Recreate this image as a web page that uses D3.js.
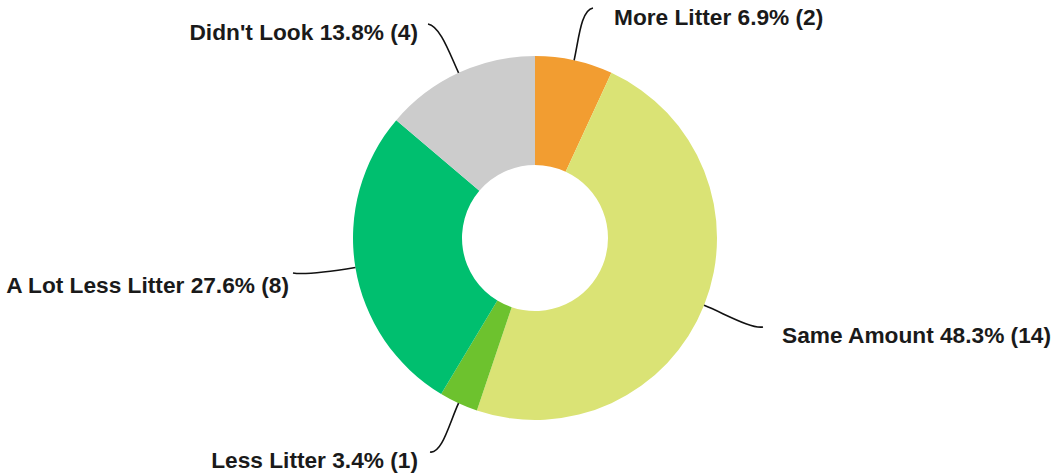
<!DOCTYPE html>
<html>
<head>
<meta charset="utf-8">
<script src="https://cdn.jsdelivr.net/npm/d3@7"></script>
<style>
  html, body { margin: 0; padding: 0; background: #fff; }
  svg { display: block; }
  .lbl { font-family: "Liberation Sans", Arial, sans-serif; font-weight: 700; font-size: 22.7px; fill: #1a1a1a; }
</style>
</head>
<body>
<svg id="chart" width="1056" height="476"></svg>
<script>
// Survey answers, clockwise from the top
const categories = ["More Litter", "Same Amount", "Less Litter", "A Lot Less Litter", "Didn't Look"];
const counts = [2, 14, 1, 8, 4];
const percents = ["6.9%", "48.3%", "3.4%", "27.6%", "13.8%"];
const colors = ["#F29D31", "#DAE375", "#6DC22E", "#00BF6F", "#CCCCCC"];

// Label placement: leader end point and which side the text sits on
const labelLayout = [
  { end: [593, 8],   side: "right", tx: 614, ty: 24.5 },
  { end: [763, 327], side: "right", tx: 782, ty: 343 },
  { end: [430, 452], side: "left",  tx: 418, ty: 468 },
  { end: [293, 273], side: "left",  tx: 289, ty: 293 },
  { end: [428, 24],  side: "left",  tx: 418, ty: 40 }
];

const cx = 535, cy = 238, outerR = 182, innerR = 73;

const svg = d3.select("#chart");
const g = svg.append("g").attr("transform", `translate(${cx},${cy})`);

const data = categories.map((c, i) => ({ name: c, value: counts[i], pct: percents[i], color: colors[i], layout: labelLayout[i] }));

const pie = d3.pie().value(d => d.value).sort(null);
const arc = d3.arc().innerRadius(innerR).outerRadius(outerR);
const arcs = pie(data);

g.selectAll("path.slice")
  .data(arcs)
  .join("path")
  .attr("class", "slice")
  .attr("d", arc)
  .attr("fill", d => d.data.color);

// Leader lines: leave the ring radially, bend into the label
g.selectAll("path.leader")
  .data(arcs)
  .join("path")
  .attr("class", "leader")
  .attr("fill", "none")
  .attr("stroke", "#111")
  .attr("stroke-width", 1.6)
  .attr("d", d => {
    const a = (d.startAngle + d.endAngle) / 2;
    const ux = Math.sin(a), uy = -Math.cos(a);
    const s = [outerR * ux, outerR * uy];
    const c1 = [(outerR + 22) * ux, (outerR + 22) * uy];
    const e = [d.data.layout.end[0] - cx, d.data.layout.end[1] - cy];
    const dir = d.data.layout.side === "right" ? -1 : 1;
    const c2 = [e[0] + dir * 12, e[1] + 2];
    return `M${s[0]},${s[1]} C${c1[0]},${c1[1]} ${c2[0]},${c2[1]} ${e[0]},${e[1]}`;
  });

svg.selectAll("text.lbl")
  .data(arcs)
  .join("text")
  .attr("class", "lbl")
  .attr("x", d => d.data.layout.tx)
  .attr("y", d => d.data.layout.ty)
  .attr("text-anchor", d => d.data.layout.side === "right" ? "start" : "end")
  .text(d => `${d.data.name} ${d.data.pct} (${d.data.value})`);
</script>
</body>
</html>
